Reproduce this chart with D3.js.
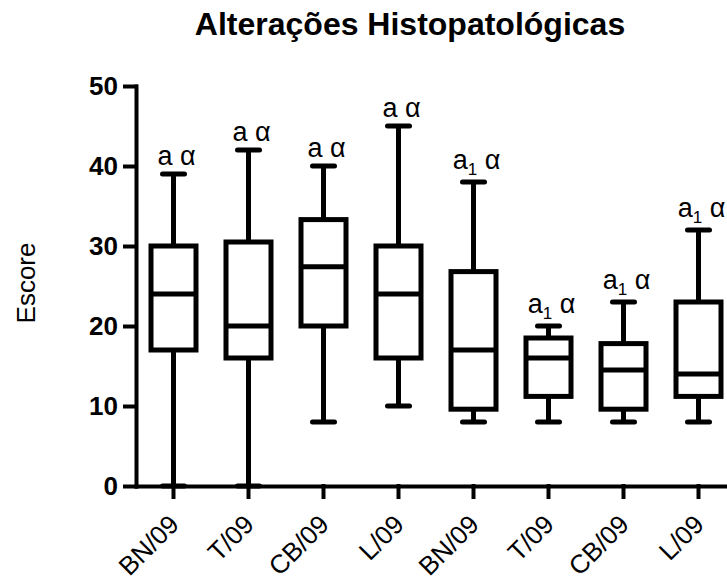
<!DOCTYPE html>
<html>
<head>
<meta charset="utf-8">
<script src="https://cdn.jsdelivr.net/npm/d3@7"></script>
<style>
  body { margin: 0; background: #fff; }
  svg { display: block; font-family: "Liberation Sans", Arial, sans-serif; }
</style>
</head>
<body>
<svg></svg>
<script>
const width = 727
const height = 577

// valores
const categories = ['BN/09', 'T/09', 'CB/09', 'L/09', 'BN/09', 'T/09', 'CB/09', 'L/09']
const mins = [0, 0, 8, 10, 8, 8, 8, 8]
const q1s = [17, 16, 20, 16, 9.6, 11.2, 9.6, 11.2]
const medians = [24, 20, 27.4, 24, 17, 16, 14.5, 14]
const q3s = [30, 30.5, 33.3, 30, 26.8, 18.5, 17.8, 23]
const maxs = [39, 42, 40, 45, 38, 20, 23, 32]
const letters = ['a', 'a', 'a', 'a', 'a1', 'a1', 'a1', 'a1']
const yTicks = [0, 10, 20, 30, 40, 50]

const plotLeft = 136
const plotBottom = 486
const plotTop = 86

const svg = d3.select('svg')
	.attr('width', width)
	.attr('height', height)

const x = d3.scaleBand()
	.domain(d3.range(categories.length))
	.range([plotLeft, plotLeft + 600])

const y = d3.scaleLinear()
	.domain([0, 50])
	.range([plotBottom, plotTop])

const boxes = categories.map(function (c, i) {
	return { i: i, min: mins[i], q1: q1s[i], med: medians[i], q3: q3s[i], max: maxs[i], letter: letters[i] }
})

// titulo
svg.append('text')
	.attr('x', 410)
	.attr('y', 35)
	.attr('text-anchor', 'middle')
	.attr('font-size', 32)
	.attr('font-weight', 'bold')
	.text('Alterações Histopatológicas')

svg.append('text')
	.attr('transform', 'translate(35,283) rotate(-90)')
	.attr('text-anchor', 'middle')
	.attr('font-size', 26)
	.text('Escore')

const g = svg.append('g')

const cx = function (d) { return x(d.i) + x.bandwidth() / 2 }
const boxW = 45
const capW = 22

// bigodes
g.selectAll('line.wu')
	.data(boxes)
	.enter()
	.append('line')
	.attr('x1', cx).attr('x2', cx)
	.attr('y1', function (d) { return y(d.q3) })
	.attr('y2', function (d) { return y(d.max) })
	.attr('stroke', '#000').attr('stroke-width', 5)

g.selectAll('line.wl')
	.data(boxes)
	.enter()
	.append('line')
	.attr('x1', cx).attr('x2', cx)
	.attr('y1', function (d) { return y(d.q1) })
	.attr('y2', function (d) { return y(d.min) })
	.attr('stroke', '#000').attr('stroke-width', 5)

g.selectAll('line.cap')
	.data(boxes.flatMap(function (d) { return [{ i: d.i, v: d.max }, { i: d.i, v: d.min }] }))
	.enter()
	.append('line')
	.attr('x1', function (d) { return cx(d) - capW / 2 })
	.attr('x2', function (d) { return cx(d) + capW / 2 })
	.attr('y1', function (d) { return y(d.v) })
	.attr('y2', function (d) { return y(d.v) })
	.attr('stroke', '#000').attr('stroke-width', 5)
	.attr('stroke-linecap', 'round')

g.selectAll('rect')
	.data(boxes)
	.enter()
	.append('rect')
	.attr('x', function (d) { return cx(d) - boxW / 2 })
	.attr('width', boxW)
	.attr('y', function (d) { return y(d.q3) })
	.attr('height', function (d) { return y(d.q1) - y(d.q3) })
	.attr('fill', '#fff')
	.attr('stroke', '#000').attr('stroke-width', 5)

g.selectAll('line.med')
	.data(boxes)
	.enter()
	.append('line')
	.attr('x1', function (d) { return cx(d) - boxW / 2 })
	.attr('x2', function (d) { return cx(d) + boxW / 2 })
	.attr('y1', function (d) { return y(d.med) })
	.attr('y2', function (d) { return y(d.med) })
	.attr('stroke', '#000').attr('stroke-width', 5)

// letras de significancia
const lab = g.selectAll('text.lab')
	.data(boxes)
	.enter()
	.append('text')
	.attr('x', function (d) { return cx(d) + 3 })
	.attr('y', function (d) { return y(d.max) - (d.letter === 'a' ? 9 : 13) })
	.attr('text-anchor', 'middle')
	.attr('font-size', 27)

lab.append('tspan').text('a')
lab.filter(function (d) { return d.letter === 'a1' })
	.append('tspan')
	.attr('dy', 6)
	.attr('font-size', 17)
	.text('1')
lab.append('tspan')
	.attr('dy', function (d) { return d.letter === 'a1' ? -6 : 0 })
	.text('\u00a0α')

// eixos
const yAxis = svg.append('g')
	.attr('transform', 'translate(' + plotLeft + ',0)')
	.call(d3.axisLeft(y).tickValues(yTicks).tickSize(11).tickSizeOuter(0).tickPadding(7))

yAxis.selectAll('text')
	.attr('font-size', 26)
	.attr('font-weight', 'bold')
	.attr('font-family', '"Liberation Sans", Arial, sans-serif')
	.attr('fill', '#000')

const xAxis = svg.append('g')
	.attr('transform', 'translate(0,' + plotBottom + ')')
	.call(d3.axisBottom(x).tickFormat(function (i) { return categories[i] }).tickSize(11).tickSizeOuter(0))

xAxis.selectAll('text')
	.attr('font-size', 26)
	.attr('font-family', '"Liberation Sans", Arial, sans-serif')
	.attr('fill', '#000')
	.attr('text-anchor', 'end')
	.attr('dy', null)
	.attr('y', 0)
	.attr('transform', 'translate(7,40) rotate(-45)')

svg.selectAll('.domain, .tick line')
	.attr('stroke', '#000')
	.attr('stroke-width', 4)
	.attr('stroke-linecap', 'square')
</script>
</body>
</html>
